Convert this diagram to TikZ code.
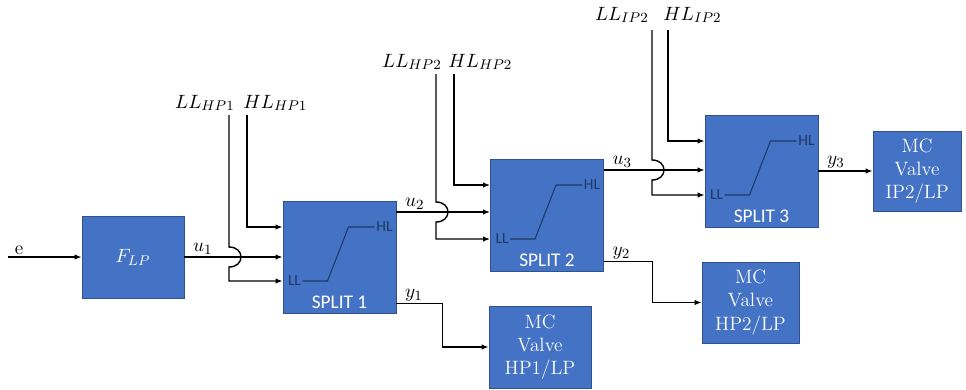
\documentclass[tikz,border=0pt]{standalone}
\usepackage{amsmath}
\usepackage{fontspec}
\newfontfamily\calibri{Carlito}
\usepackage{tikz}
\usetikzlibrary{arrows.meta,calc,positioning}
\definecolor{blkfill}{HTML}{4472C4}
\definecolor{blkedge}{HTML}{2F528F}
\definecolor{rampcol}{HTML}{1F3864}
\tikzset{
    block/.style={draw=blkedge, fill=blkfill, line width=0.5pt, inner sep=0pt, text=white, align=center},
    splitbox/.style={block, minimum width=2.26cm, minimum height=2.24cm},
    ramptext/.style={inner sep=0pt, text=rampcol, font=\calibri\fontsize{8.8}{10}\selectfont},
    splittext/.style={inner sep=0pt, text=white, font=\calibri\fontsize{11}{13}\selectfont}
}

\begin{document}
\begin{tikzpicture}[
  x=0.02cm, y=-0.02cm,
  >={Latex[length=4pt,width=3.2pt]},
  every node/.style={font=\fontsize{11}{13.3}\selectfont},
  edge/.style={->, line width=0.8pt, draw=black},
  ramp/.style={draw=rampcol, line width=0.6pt},
  lbl/.style={anchor=south west, inner sep=1pt, xshift=3.5pt},
  lowlim/.style={anchor=base east, inner sep=0pt},
  highlim/.style={anchor=base west, inner sep=0pt}
]
\useasboundingbox (0,0) rectangle (966,389);

% ---- blocks ----
\node[block, minimum width=2.04cm, minimum height=1.64cm] (F) at (133,257) {$F_{LP}$};
\node[splitbox] (S1) at (339.5,257) {};
\node[splitbox] (S2) at (547,215) {};
\node[splitbox] (S3) at (761.5,171) {};
\node[block, minimum width=2.04cm, minimum height=1.64cm] (M1) at (540,347) {MC\\Valve\\HP1/LP};
\node[block, minimum width=1.94cm, minimum height=1.62cm] (M2) at (750.5,302.5) {MC\\Valve\\HP2/LP};
\node[block, minimum width=1.76cm, minimum height=1.60cm] (M3) at (917,171) {MC\\Valve\\IP2/LP};

% ---- split characteristic ----
\foreach \s/\n in {S1/1,S2/2,S3/3}{
  \draw[ramp] ($(\s)+(-37,24)$) -- ++(25,0) -- ++(21,-54) -- ++(26,0);
  \node[ramptext] (\s ll) at ($(\s)+(-45,24)$) {LL};
  \node[ramptext] (\s hl) at ($(\s)+(45,-30)$) {HL};
  \node[splittext] (\s txt) at ($(\s)+(0,45)$) {SPLIT \n};
}

% ---- limits (top) ----
\node[lowlim] (LL1) at (235,108) {$LL_{HP1}$};
\node[highlim] (HL1) at (243,108) {$HL_{HP1}$};
\node[lowlim] (LL2) at (442,67) {$LL_{HP2}$};
\node[highlim] (HL2) at (448,67) {$HL_{HP2}$};
\node[lowlim] (LL3) at (649,20) {$LL_{IP2}$};
\node[highlim] (HL3) at (663,20) {$HL_{IP2}$};
\coordinate (ll1) at (229,115);
\coordinate (hl1) at (247,115);
\coordinate (ll2) at (436,74);
\coordinate (hl2) at (454,74);
\coordinate (ll3) at (652,30);
\coordinate (hl3) at (668,30);

% ---- edges: main chain ----
\coordinate (ein) at (8,257);
\coordinate (u2in) at ($(S2.west)+(0,-3)$);
\coordinate (u3in) at ($(S3.west)+(0,-1)$);
\draw[edge] (ein) node[lbl, xshift=-1pt] (e) {e} -- (F.west);
\draw[edge] (F.east) node[lbl] (u1) {$u_1$} -- (F.east -| S1.west);
\draw[edge] (u2in -| S1.east) node[lbl] (u2) {$u_2$} -- (u2in);
\draw[edge] (u3in -| S2.east) node[lbl] (u3) {$u_3$} -- (u3in);

% ---- edges: limits into the splits ----
\draw[edge] (hl1) |- ($(S1.west)+(0,-30)$);
\draw[edge] (ll1) -- ($(ll1 |- F.east)+(0,-10)$) .. controls +(16,0) and +(16,0) .. ($(ll1 |- F.east)+(0,10)$) |- ($(S1.west)+(0,24)$);
\draw[edge] (hl2) |- ($(S2.west)+(0,-30)$);
\draw[edge] (ll2) -- ($(ll2 |- u2in)+(0,-10)$) .. controls +(16,0) and +(16,0) .. ($(ll2 |- u2in)+(0,10)$) |- ($(S2.west)+(0,24)$);
\draw[edge] (hl3) |- ($(S3.west)+(0,-30)$);
\draw[edge] (ll3) -- ($(ll3 |- u3in)+(0,-10)$) .. controls +(16,0) and +(16,0) .. ($(ll3 |- u3in)+(0,10)$) |- ($(S3.west)+(0,24)$);

% ---- edges: outputs to the valves ----
\coordinate (y1o) at ($(S1.south east)+(0,-10)$);
\coordinate (y2o) at ($(S2.south east)+(0,-10)$);
\draw[edge] (y1o) node[lbl] (y1) {$y_1$} -| ($(y1o)!0.5!(M1.west)$) |- (M1.west);
\draw[edge] (y2o) node[lbl] (y2) {$y_2$} -| ($(y2o)!0.5!(M2.west)$) |- (M2.west);
\draw[edge] (M3.west -| S3.east) node[lbl] (y3) {$y_3$} -- (M3.west);

\end{tikzpicture}
\end{document}
